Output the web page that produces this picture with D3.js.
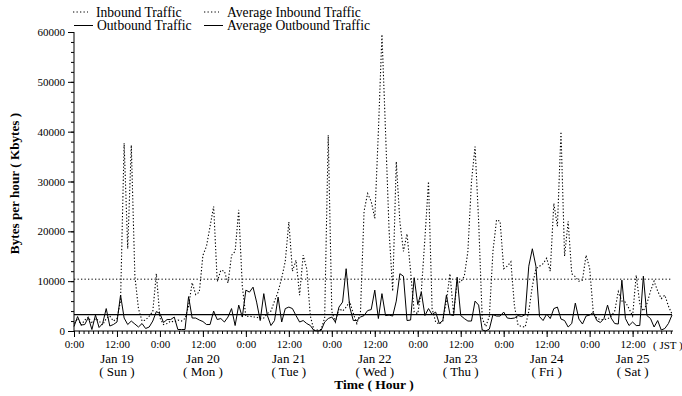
<!DOCTYPE html>
<html>
<head>
<meta charset="utf-8">
<script src="https://cdn.jsdelivr.net/npm/d3@7"></script>
<style>
  html, body { margin: 0; padding: 0; background: #fff; }
  svg text { font-family: "Liberation Serif", "Times New Roman", "DejaVu Serif", serif; fill: #000; }
</style>
</head>
<body>
<svg id="chart" width="682" height="396"></svg>
<script>
// hourly samples, Jan 19 0:00 .. Jan 25 23:00 (JST), Kbytes
const inbound = [
  1500, 2500, 1200, 2200, 2800, 1500, 2500, 2000, 1200, 2500, 3000, 2000,
  2500, 6000, 37700, 16500, 37300, 11000, 4500, 2000, 2200, 3000, 3900, 11500,
  2600, 1300, 1500, 2000, 1800, 2200, 2000, 2500, 5000, 9700, 7300, 7800,
  15200, 17000, 21000, 25000, 9900, 12200, 12000, 9600, 15200, 16000, 24300, 9000,
  2900, 3000, 2800, 2800, 2500, 2600, 3500, 4000, 6000, 7900, 10600, 14000,
  21900, 12000, 14200, 7200, 15200, 12500, 3000, 200, 200, 300, 2600, 39300,
  3900, 1800, 4500, 4000, 4800, 5900, 3500, 1500, 3800, 24000, 27600, 26000,
  22600, 40000, 59500, 40000, 20000, 8000, 34000, 22000, 16000, 19500, 12000, 3800,
  3500, 8000, 18600, 30000, 4500, 1800, 1400, 2000, 6000, 11500, 3500, 9900,
  9800, 11000, 16000, 30000, 37000, 22000, 2500, 900, 3000, 16000, 22300, 22000,
  12500, 13000, 13900, 5000, 1200, 900, 800, 3900, 9000, 12500, 13000, 13500,
  14600, 12000, 25600, 21000, 40000, 15000, 22000, 11500, 10900, 10000, 10200, 15200,
  12600, 3900, 2500, 2300, 2300, 2400, 3000, 4000, 7900, 6000, 5800, 4500,
  3000, 11200, 5500, 4000, 5500, 8000, 10000, 8000, 6500, 7200, 5000, 3400
];
const outbound = [
  900, 2900, 1200, 1300, 2700, 300, 3200, 700, 1500, 4500, 1000, 1300,
  1800, 7200, 2600, 1300, 2000, 1400, 800, 1500, 500, 800, 2000, 3900,
  3500, 1700, 2300, 2300, 2800, 300, 300, 300, 6900, 2600, 2600, 2200,
  1900, 1300, 1300, 4000, 2300, 2500, 1800, 2800, 4500, 1100, 5200, 2800,
  8200, 7800, 8800, 5800, 2100, 7500, 3100, 1100, 2100, 6800, 1800, 4500,
  4800, 4500, 3100, 1800, 2100, 1500, 1100, 100, 0, 100, 1800, 2500,
  2800, 1800, 4800, 5800, 12500, 4800, 2100, 2100, 2800, 3100, 4100, 4300,
  8200, 2500, 7500, 3100, 3200, 3000, 6000, 11500, 11000, 2100, 2200, 10700,
  5300, 7800, 3100, 4500, 3300, 3800, 1500, 2100, 7200, 3300, 3100, 10800,
  3100, 2500, 2000, 2000, 6000, 5200, 200, 0, 400, 3300, 3000, 3000,
  3800, 2600, 2500, 2600, 3100, 2900, 3300, 13000, 16500, 13000, 2900, 2100,
  3400, 2500, 4500, 4800, 2400, 2100, 800, 1500, 5600, 2400, 1400, 3000,
  3200, 3700, 2100, 1700, 2500, 5200, 2600, 1500, 1400, 10200, 2500, 1100,
  1800, 1100, 1100, 11000, 3100, 2500, 800, 2100, 200, 500, 1500, 3200
];
const avgInbound = 10400;
const avgOutbound = 3300;

const yMajorTicks = [0, 10000, 20000, 30000, 40000, 50000, 60000];
const days = ["Jan 19", "Jan 20", "Jan 21", "Jan 22", "Jan 23", "Jan 24", "Jan 25"];
const weekdays = ["( Sun )", "( Mon )", "( Tue )", "( Wed )", "( Thu )", "( Fri )", "( Sat )"];

const svg = d3.select("#chart");
const x = d3.scaleLinear().domain([0, 167]).range([74, 672]);
const y = d3.scaleLinear().domain([0, 60000]).range([331, 32]);

const hours = d3.range(inbound.length);

// avg lines
svg.append("line")
    .attr("x1", x(0)).attr("x2", x(167))
    .attr("y1", y(avgInbound)).attr("y2", y(avgInbound))
    .attr("stroke", "#000").attr("stroke-width", 1)
    .attr("stroke-dasharray", "1.3,2.2");
svg.append("line")
    .attr("x1", x(0)).attr("x2", x(167))
    .attr("y1", y(avgOutbound)).attr("y2", y(avgOutbound))
    .attr("stroke", "#000").attr("stroke-width", 1.2);

const line = d3.line().x(d => x(d[0])).y(d => y(d[1]));

svg.append("path")
    .datum(hours.map(h => [h, inbound[h]]))
    .attr("d", line)
    .attr("fill", "none")
    .attr("stroke", "#000")
    .attr("stroke-width", 1.1)
    .attr("stroke-dasharray", "1.3,2");

svg.append("path")
    .datum(hours.map(h => [h, outbound[h]]))
    .attr("d", line)
    .attr("fill", "none")
    .attr("stroke", "#000")
    .attr("stroke-width", 1);

// y axis
const yMinor = svg.append("g").attr("transform", `translate(${x(0)},0)`)
    .call(d3.axisLeft(y).tickValues(d3.range(0, 60001, 2000)).tickSize(3).tickFormat(""));
yMinor.select(".domain").remove();
const yMajor = svg.append("g").attr("transform", `translate(${x(0)},0)`)
    .call(d3.axisLeft(y).tickValues(yMajorTicks).tickSize(6).tickPadding(3).tickFormat(d3.format("d")));
yMajor.select(".domain").remove();
yMajor.selectAll("text").attr("font-size", 11);
svg.append("line")
    .attr("x1", x(0)).attr("x2", x(0)).attr("y1", y(0)).attr("y2", y(60000))
    .attr("stroke", "#000");

// x axis
const xMinor = svg.append("g").attr("transform", `translate(0,${y(0)})`)
    .call(d3.axisBottom(x).tickValues(d3.range(0, 167, 4 / 3)).tickSize(3).tickFormat(""));
xMinor.select(".domain").remove();
const xMajor = svg.append("g").attr("transform", `translate(0,${y(0)})`)
    .call(d3.axisBottom(x).tickValues(d3.range(0, 167, 12)).tickSize(6).tickPadding(3)
        .tickFormat(h => h % 24 === 0 ? "0:00" : "12:00"));
xMajor.select(".domain").remove();
xMajor.selectAll("text").attr("font-size", 11);
svg.append("line")
    .attr("x1", x(0)).attr("x2", x(167) + 1).attr("y1", y(0)).attr("y2", y(0))
    .attr("stroke", "#000");

svg.append("text")
    .attr("x", 653).attr("y", y(0) + 18)
    .attr("font-size", 11)
    .text("( JST )");

// day labels
days.forEach((d, i) => {
    svg.append("text")
        .attr("x", x(i * 24 + 12)).attr("y", y(0) + 32)
        .attr("text-anchor", "middle").attr("font-size", 13)
        .text(d);
    svg.append("text")
        .attr("x", x(i * 24 + 12)).attr("y", y(0) + 44.5)
        .attr("text-anchor", "middle").attr("font-size", 13)
        .text(weekdays[i]);
});

svg.append("text")
    .attr("x", 374).attr("y", 389)
    .attr("text-anchor", "middle").attr("font-size", 13.5).attr("font-weight", "bold")
    .text("Time ( Hour )");

svg.append("text")
    .attr("transform", `translate(18.5,${y(30000) + 2}) rotate(-90)`)
    .attr("text-anchor", "middle").attr("font-size", 13.2).attr("font-weight", "bold")
    .text("Bytes per hour ( Kbytes )");

// legend
const legend = [
    { label: "Inbound Traffic", dash: "1.3,2.2", lx: 73, ly: 12 },
    { label: "Average Inbound Traffic", dash: "1.3,2.2", lx: 204, ly: 12 },
    { label: "Outbound Traffic", dash: null, lx: 74, ly: 25.5 },
    { label: "Average Outbound Traffic", dash: null, lx: 204, ly: 25.5 }
];
legend.forEach(l => {
    svg.append("line")
        .attr("x1", l.lx).attr("x2", l.lx + (l.dash ? 15 : 19))
        .attr("y1", l.ly).attr("y2", l.ly)
        .attr("stroke", "#000").attr("stroke-width", 1)
        .attr("stroke-dasharray", l.dash);
    svg.append("text")
        .attr("x", l.lx + 23).attr("y", l.ly + 4.7)
        .attr("font-size", 13.6)
        .text(l.label);
});
</script>
</body>
</html>
